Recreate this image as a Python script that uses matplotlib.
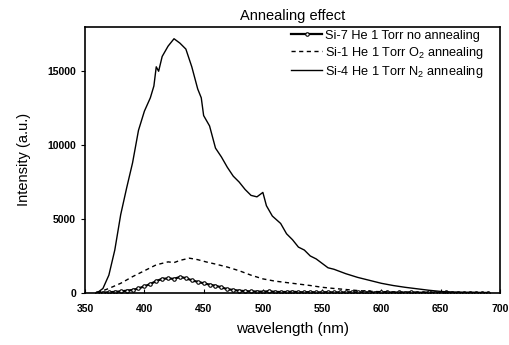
import numpy as np
import matplotlib
matplotlib.use("Agg")
import matplotlib.pyplot as plt

plt.rcParams['font.family'] = ['Liberation Sans', 'DejaVu Sans']
plt.rcParams['mathtext.default'] = 'regular'

# Si-4 He 1 Torr N2 annealing (solid)
wl_n2 = [360, 365, 370, 375, 380, 385, 390, 395, 400, 405, 408, 410, 412, 415, 420,
         425, 430, 435, 440, 445, 448, 450, 455, 460, 465, 470, 475, 480, 485, 490,
         495, 500, 503, 508, 515, 520, 525, 530, 535, 540, 545, 550, 555, 560, 565,
         570, 580, 590, 600, 610, 620, 630, 640, 650, 660, 670, 680, 690]
i_n2 = [0, 300, 1200, 2900, 5300, 7100, 8800, 11000, 12300, 13200, 14000, 15300, 15000, 16000, 16700,
        17200, 16900, 16500, 15300, 13800, 13200, 12000, 11300, 9800, 9200, 8500, 7900, 7500, 7000, 6600,
        6500, 6800, 5900, 5200, 4700, 4000, 3600, 3100, 2900, 2500, 2300, 2000, 1700, 1600, 1450,
        1300, 1050, 850, 650, 500, 380, 280, 180, 100, 50, 20, 0, 0]

# Si-1 He 1 Torr O2 annealing (dashed)
wl_o2 = [360, 370, 380, 390, 400, 410, 420, 425, 430, 438, 445, 452, 460, 470, 480,
         490, 500, 510, 520, 530, 540, 550, 560, 570, 580, 590, 600, 620, 640, 660, 690]
i_o2 = [0, 300, 650, 1100, 1500, 1900, 2100, 2050, 2200, 2350, 2250, 2100, 1950, 1750, 1500,
        1200, 950, 800, 700, 600, 500, 380, 300, 230, 160, 110, 80, 40, 20, 0, 0]

# Si-7 He 1 Torr no annealing (markers)
wl_no = [360, 365, 370, 375, 380, 385, 390, 395, 400, 405, 410, 415, 420, 425, 430,
         435, 440, 445, 450, 455, 460, 465, 470, 475, 480, 485, 490, 495, 500, 505,
         510, 515, 520, 525, 530, 535, 540, 545, 550, 555, 560, 565, 570, 575, 580,
         585, 590, 595, 600, 605, 610, 615, 620, 625, 630, 635, 640, 645, 650, 655,
         660, 665, 670, 675, 680, 685, 690]
i_no = [0, 20, 40, 70, 100, 150, 200, 300, 450, 600, 800, 950, 980, 950, 1080,
        1000, 850, 750, 650, 560, 480, 380, 250, 200, 150, 120, 100, 90, 80, 110,
        70, 60, 60, 80, 50, 40, 60, 30, 40, 50, 30, 40, 30, 50, 30,
        40, 30, 20, 30, 40, 20, 30, 20, 40, 20, 10, 30, 20, 20, 30,
        10, 20, 10, 20, 10, 0, 0]

fig = plt.figure(figsize=(5.1, 3.45), dpi=100)
ax = fig.add_axes([0.167, 0.151, 0.813, 0.771])

ax.plot(wl_no, i_no, color='black', lw=1.6, marker='o', ms=2.5, mfc='white',
        mec='black', mew=0.8, label='Si-7 He 1 Torr no annealing')
ax.plot(wl_o2, i_o2, color='black', lw=1.0, ls=(0, (3, 2.5)),
        label='Si-1 He 1 Torr O$_2$ annealing')
ax.plot(wl_n2, i_n2, color='black', lw=1.0, label='Si-4 He 1 Torr N$_2$ annealing')

ax.set_xlim(350, 700)
ax.set_ylim(0, 18000)
ax.set_xticks(np.arange(350, 701, 50))
ax.set_yticks([0, 5000, 10000, 15000])
ax.tick_params(axis='x', direction='in', length=3, labelsize=7.5, pad=8)
ax.tick_params(axis='y', direction='out', length=3, labelsize=7.5)
for lab in ax.get_xticklabels() + ax.get_yticklabels():
    lab.set_fontweight('bold')
for s in ax.spines.values():
    s.set_linewidth(1.2)

ax.set_title('Annealing effect', fontsize=10.5, pad=5)
ax.set_xlabel('wavelength (nm)', fontsize=11, labelpad=6)
ax.set_ylabel('Intensity (a.u.)', fontsize=10.5, labelpad=12)

leg = ax.legend(loc='upper right', bbox_to_anchor=(0.962, 0.99), frameon=False,
                fontsize=9.2, numpoints=1, handlelength=2.4, handletextpad=0.25,
                labelspacing=0.25, borderaxespad=0, borderpad=0)

fig.savefig('out.png', dpi=100)
